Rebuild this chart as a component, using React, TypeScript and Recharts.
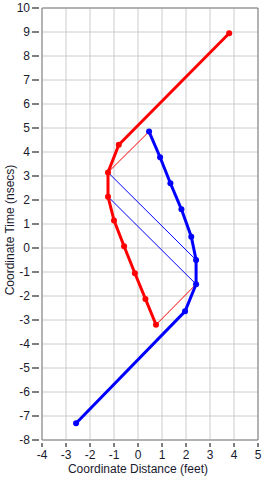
import React from 'react'
import {
  ScatterChart,
  Scatter,
  XAxis,
  YAxis,
  CartesianGrid,
  ReferenceLine
} from 'recharts'

// red worldline (distance in feet, time in nsecs)
const redDistance = [3.8, -0.8, -1.25, -1.25, -1.0, -0.58, -0.13, 0.31, 0.75]
const redTime = [8.95, 4.3, 3.15, 2.14, 1.15, 0.07, -1.05, -2.12, -3.2]

// blue worldline
const blueDistance = [0.46, 0.92, 1.35, 1.81, 2.22, 2.42, 2.42, 1.96, -2.58]
const blueTime = [4.85, 3.78, 2.7, 1.61, 0.47, -0.5, -1.51, -2.64, -7.3]

// light signals between the two
const redSignalA = { x: [-1.25, 0.46], t: [3.15, 4.85] }
const redSignalB = { x: [2.42, 0.75], t: [-1.51, -3.2] }
const blueSignalA = { x: [-1.25, 2.42], t: [3.15, -0.5] }
const blueSignalB = { x: [-1.25, 2.42], t: [2.14, -1.51] }

const xTicks = [-4, -3, -2, -1, 0, 1, 2, 3, 4, 5]
const yTicks = [-8, -7, -6, -5, -4, -3, -2, -1, 0, 1, 2, 3, 4, 5, 6, 7, 8, 9, 10]

const toPoints = (xs: number[], ts: number[]) => xs.map((x, i) => ({ x, y: ts[i] }))

const FONT = '"Liberation Sans", Arial, sans-serif'
const TEXT = '#1a1a2e'
const BORDER = '#808080'

const XTick = ({ x, y, payload }: any) => (
  <g>
    <line x1={x} x2={x} y1={y + 3} y2={y + 7} stroke="#000" />
    <text x={x} y={y + 19} textAnchor="middle" fontSize={12} fontFamily={FONT} fill={TEXT}>
      {payload.value}
    </text>
  </g>
)

const YTick = ({ x, y, payload }: any) => (
  <g>
    <line x1={x - 10} x2={x - 3} y1={y} y2={y} stroke="#000" />
    <text x={x - 12} y={y + 4} textAnchor="end" fontSize={12} fontFamily={FONT} fill={TEXT}>
      {payload.value}
    </text>
  </g>
)

const dot = (color: string) => (props: any) => (
  <circle cx={props.cx} cy={props.cy} r={3} fill={color} />
)
const noDot = () => <g />

export default function App() {
  return (
    <div style={{ position: 'absolute', left: 0, top: 0, width: 269, height: 480, background: '#fff' }}>
      <ScatterChart width={269} height={480} margin={{ top: 8, right: 11, left: 0, bottom: 0 }}>
        <CartesianGrid stroke="#cccccc" horizontalValues={yTicks} verticalValues={xTicks} />
        <XAxis
          type="number"
          dataKey="x"
          domain={[-4, 5]}
          ticks={xTicks}
          allowDataOverflow
          height={40}
          tickSize={0}
          tickMargin={0}
          tickLine={false}
          axisLine={{ stroke: BORDER }}
          tick={<XTick />}
          interval={0}
          label={{
            content: () => (
              <text x={138} y={473} textAnchor="middle" fontSize={12} fontFamily={FONT} fill={TEXT}>
                Coordinate Distance (feet)
              </text>
            )
          }}
        />
        <YAxis
          type="number"
          dataKey="y"
          domain={[-8, 10]}
          ticks={yTicks}
          allowDataOverflow
          width={42}
          tickSize={0}
          tickMargin={0}
          tickLine={false}
          axisLine={{ stroke: BORDER }}
          tick={<YTick />}
          interval={0}
          label={{
            content: () => (
              <text
                x={14}
                y={230}
                textAnchor="middle"
                fontSize={12}
                fontFamily={FONT}
                fill={TEXT}
                transform="rotate(-90 14 230)"
              >
                Coordinate Time (nsecs)
              </text>
            )
          }}
        />
        <ReferenceLine x={5} stroke={BORDER} />
        <ReferenceLine y={10} stroke={BORDER} />
        <Scatter data={toPoints(redSignalA.x, redSignalA.t)} line={{ stroke: '#ff0000', strokeWidth: 1 }} shape={noDot} isAnimationActive={false} />
        <Scatter data={toPoints(redSignalB.x, redSignalB.t)} line={{ stroke: '#ff0000', strokeWidth: 1 }} shape={noDot} isAnimationActive={false} />
        <Scatter data={toPoints(blueSignalA.x, blueSignalA.t)} line={{ stroke: '#0000ff', strokeWidth: 1 }} shape={noDot} isAnimationActive={false} />
        <Scatter data={toPoints(blueSignalB.x, blueSignalB.t)} line={{ stroke: '#0000ff', strokeWidth: 1 }} shape={noDot} isAnimationActive={false} />
        <Scatter data={toPoints(redDistance, redTime)} line={{ stroke: '#ff0000', strokeWidth: 3 }} shape={dot('#ff0000')} isAnimationActive={false} />
        <Scatter data={toPoints(blueDistance, blueTime)} line={{ stroke: '#0000ff', strokeWidth: 3 }} shape={dot('#0000ff')} isAnimationActive={false} />
      </ScatterChart>
    </div>
  )
}
